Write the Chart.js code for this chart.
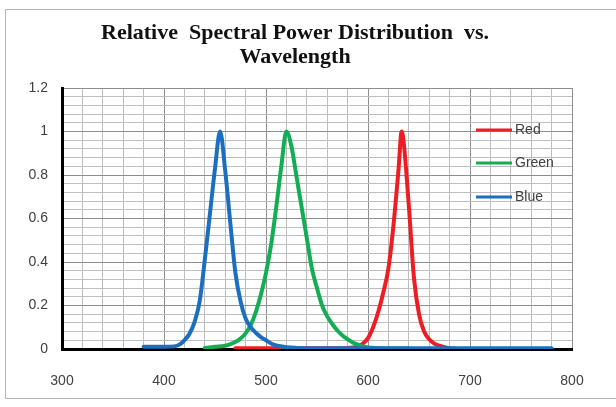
<!DOCTYPE html>
<html>
<head>
<meta charset="utf-8">
<script src="https://cdn.jsdelivr.net/npm/chart.js"></script>
<style>
  body { margin: 0; background: #fff; }
  #wrap { width: 616px; height: 407px; }
</style>
</head>
<body>
<div id="wrap"><canvas id="spd" width="616" height="407"></canvas></div>
<script>
// wavelengths (nm) and relative power
var redNm = [470, 500, 550, 580, 590, 595, 600, 605, 610, 615, 620, 625, 630, 633, 635, 640, 645, 650, 655, 660, 665, 670, 675, 680, 685];
var redVal = [0.003, 0.003, 0.003, 0.005, 0.012, 0.025, 0.05, 0.10, 0.17, 0.26, 0.37, 0.57, 0.83, 1.0, 0.95, 0.66, 0.33, 0.16, 0.08, 0.045, 0.025, 0.015, 0.008, 0.004, 0.002];

var greenNm = [440, 450, 460, 465, 470, 475, 480, 485, 490, 495, 500, 505, 510, 515, 520, 525, 530, 535, 540, 545, 550, 555, 560, 565, 570, 575, 580, 585, 590, 595, 600, 610, 620, 640];
var greenVal = [0.005, 0.01, 0.015, 0.022, 0.032, 0.048, 0.072, 0.11, 0.17, 0.25, 0.35, 0.48, 0.65, 0.84, 1.0, 0.93, 0.79, 0.65, 0.51, 0.37, 0.28, 0.20, 0.15, 0.115, 0.085, 0.062, 0.045, 0.03, 0.02, 0.012, 0.007, 0.004, 0.002, 0.002];

var blueNm = [380, 390, 400, 410, 415, 420, 425, 430, 435, 440, 445, 450, 455, 460, 465, 470, 475, 480, 485, 490, 495, 500, 505, 510, 520, 530, 550, 600, 650, 700, 780];
var blueVal = [0.01, 0.01, 0.01, 0.012, 0.02, 0.04, 0.07, 0.125, 0.22, 0.41, 0.62, 0.83, 1.0, 0.82, 0.58, 0.35, 0.22, 0.14, 0.10, 0.075, 0.055, 0.04, 0.025, 0.016, 0.008, 0.005, 0.003, 0.003, 0.003, 0.003, 0.003];

var seriesNames = ['Red', 'Green', 'Blue'];
var seriesColors = ['#ee1d23', '#13ad55', '#1c6fbf'];

var xTicks = [300, 400, 500, 600, 700, 800];
var yTicks = [0, 0.2, 0.4, 0.6, 0.8, 1, 1.2];

function toPoints(nm, val) {
    return nm.map(function(x, i) { return { x: x, y: val[i] }; });
}

var allData = [toPoints(redNm, redVal), toPoints(greenNm, greenVal), toPoints(blueNm, blueVal)];

var datasets = seriesNames.map(function(name, i) {
    return {
        label: name,
        data: allData[i],
        borderColor: seriesColors[i],
        backgroundColor: seriesColors[i],
        borderWidth: 4,
        pointRadius: 0,
        tension: 0.4,
        cubicInterpolationMode: 'monotone',
        borderJoinStyle: 'round',
        borderCapStyle: 'round',
        // excel draws blue last, on top
        order: 3 - i
    };
});

function isMajorY(v) {
    return Math.abs(Math.round(v * 100) % 20) === 0;
}

var framePlugin = {
    id: 'frame',
    beforeDraw: function(chart) {
        var ctx = chart.ctx;
        ctx.save();
        ctx.fillStyle = '#fff';
        ctx.fillRect(0, 0, chart.width, chart.height);
        ctx.strokeStyle = '#b4b4b4';
        ctx.lineWidth = 1;
        ctx.strokeRect(5.5, 9.5, 700, 389);
        ctx.restore();
    }
};

var legendPlugin = {
    id: 'sideLegend',
    afterDraw: function(chart) {
        var ctx = chart.ctx;
        var rows = [130, 163, 197];
        ctx.save();
        ctx.font = '14px "Liberation Sans", Arial, sans-serif';
        ctx.textBaseline = 'middle';
        chart.data.datasets.forEach(function(ds, i) {
            ctx.strokeStyle = ds.borderColor;
            ctx.lineWidth = 3;
            ctx.beginPath();
            ctx.moveTo(476, rows[i]);
            ctx.lineTo(512, rows[i]);
            ctx.stroke();
            ctx.fillStyle = '#404040';
            ctx.fillText(ds.label, 515, rows[i]);
        });
        ctx.restore();
    }
};

new Chart(document.getElementById('spd'), {
    type: 'line',
    data: { datasets: datasets },
    plugins: [framePlugin, legendPlugin],
    options: {
        responsive: false,
        animation: false,
        layout: { padding: { left: 18, right: 44, top: 0, bottom: 0 } },
        plugins: {
            legend: { display: false },
            tooltip: { enabled: false },
            title: {
                display: true,
                text: ['Relative  Spectral Power Distribution  vs.', 'Wavelength'],
                color: '#111',
                font: { family: '"Liberation Serif", "Times New Roman", serif', size: 22, weight: 'bold', lineHeight: 1.1 },
                padding: { top: 21, bottom: 18.6 }
            }
        },
        scales: {
            x: {
                type: 'linear',
                min: 300,
                max: 800,
                afterFit: function(scale) { scale.height = 58; },
                border: { color: '#000', width: 3 },
                grid: {
                    drawTicks: false,
                    color: function(c) { return c.tick && c.tick.value % 100 === 0 ? '#8e8e8e' : '#bdbdbd'; }
                },
                ticks: {
                    stepSize: 20,
                    autoSkip: false,
                    maxRotation: 0,
                    padding: 24,
                    color: '#404040',
                    font: { family: '"Liberation Sans", Arial, sans-serif', size: 14 },
                    callback: function(value) {
                        return xTicks.indexOf(value) >= 0 ? String(value) : '';
                    }
                }
            },
            y: {
                min: 0,
                max: 1.2,
                afterFit: function(scale) { scale.width = 44; },
                border: { color: '#000', width: 3 },
                grid: {
                    drawTicks: false,
                    color: function(c) { return c.tick && isMajorY(c.tick.value) ? '#8e8e8e' : '#bdbdbd'; }
                },
                ticks: {
                    stepSize: 0.04,
                    autoSkip: false,
                    maxTicksLimit: 100,
                    padding: 14,
                    color: '#404040',
                    font: { family: '"Liberation Sans", Arial, sans-serif', size: 14 },
                    callback: function(value) {
                        if (!isMajorY(value)) {
                            return '';
                        }
                        var v = Math.round(value * 10) / 10;
                        return yTicks.indexOf(v) >= 0 ? String(v) : '';
                    }
                }
            }
        }
    }
});
</script>
</body>
</html>
